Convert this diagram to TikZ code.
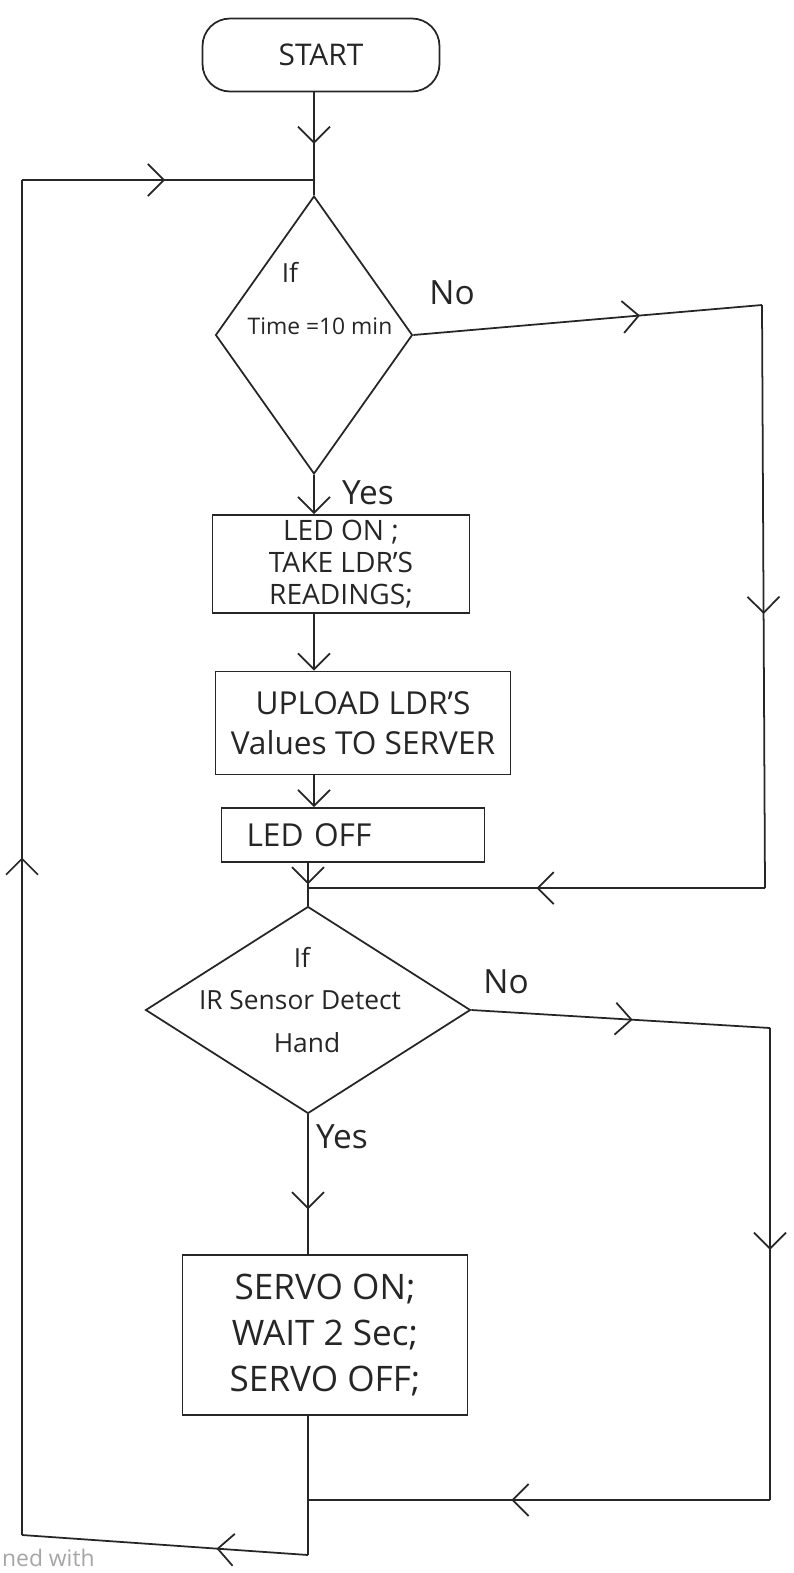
\documentclass[tikz,border=0pt]{standalone}
\usepackage{fontspec}
\setmainfont{Open Sans}
\usetikzlibrary{shapes.geometric,arrows.meta,decorations.markings}

\tikzset{
  hand/.tip={Straight Barb[length=3.2mm,width=6.4mm,line width=1pt]},
  flow/.style={line width=1pt, draw=black!85},
  midarrow/.style={postaction={decorate,decoration={markings,mark=at position #1 with {\arrow{hand}}}}},
  procbox/.style={draw=black!85, line width=1pt, rectangle, inner sep=2pt, align=center, text=black!85},
  decbox/.style={draw=black!85, line width=1pt, diamond, inner sep=0pt},
  tag/.style={font=\fontsize{19}{22}\selectfont, text=black!85},
}

\begin{document}
\begin{tikzpicture}[x=0.02cm, y=-0.02cm]
    \fill[white] (0,0) rectangle (794,1573);
    \useasboundingbox (0,0) rectangle (794,1573);

    % Blocks
    \node[procbox, rounded corners=0.55cm, minimum width=4.74cm, minimum height=1.46cm,
          font=\fontsize{17}{20}\selectfont] (start) at (321,55) {START};

    \node[decbox, minimum width=3.94cm, minimum height=5.56cm] (dec1) at (314,335) {};
    \node[font=\fontsize{15}{17}\selectfont, text=black!85] (dec1if) at (290,272) {If};
    \node[font=\fontsize{13}{15}\selectfont, text=black!85] (dec1q) at (320,326) {Time =10 min};

    \node[procbox, minimum width=5.14cm, minimum height=1.96cm,
          font=\fontsize{16}{18}\selectfont] (box1) at (341,564) {LED ON ;\\TAKE LDR'S\\READINGS;};
    \node[procbox, minimum width=5.9cm, minimum height=2.06cm,
          font=\fontsize{18}{23}\selectfont] (box2) at (363,723) {UPLOAD LDR'S\\Values TO SERVER};
    \node[procbox, minimum width=5.26cm, minimum height=1.08cm, inner xsep=0.5cm,
          text width=4.26cm, align=left, font=\fontsize{18}{20}\selectfont] (box3) at (353,835) {LED OFF};

    \node[decbox, minimum width=6.5cm, minimum height=4.14cm] (dec2) at (308,1010) {};
    \node[font=\fontsize{15}{18}\selectfont, text=black!85] (dec2if) at (302,957) {If};
    \node[font=\fontsize{15}{18}\selectfont, text=black!85] (dec2q) at (300,1000) {IR Sensor Detect};
    \node[font=\fontsize{15}{18}\selectfont, text=black!85] (dec2hand) at (307,1043) {Hand};

    \node[procbox, minimum width=5.7cm, minimum height=3.2cm,
          font=\fontsize{20}{26}\selectfont] (box4) at (325,1335) {SERVO ON;\\WAIT 2 Sec;\\SERVO OFF;};

    % Corner points
    \coordinate (nA) at (762,305);
    \coordinate (nB) at (765,888);
    \coordinate (nC) at (770,1028);
    \coordinate (nD) at (770,1500);
    \coordinate (loopB) at (308,1555);
    \coordinate (loopL) at (22,1535);
    \coordinate (loopT) at (22,180);

    % Main line
    \draw[flow, midarrow=0.5] (start.south -| dec1.north) -- (dec1.north);
    \draw[flow, -hand] (dec1.south) -- (dec1.south |- box1.north);
    \draw[flow, -hand] (dec1.south |- box1.south) -- (dec1.south |- box2.north);
    \draw[flow, -hand] (dec1.south |- box2.south) -- (dec1.south |- box3.north);
    \draw[flow, midarrow=0.5] (dec2.north |- box3.south) -- (dec2.north);
    \draw[flow, midarrow=0.68] (dec2.south) -- (dec2.south |- box4.north);
    \draw[flow] (box4.south -| dec2.south) -- (loopB);

    % No branches
    \draw[flow, midarrow=0.65] (dec1.east) -- (nA);
    \draw[flow, midarrow=0.53] (nA) -- (nB);
    \draw[flow, midarrow=0.5] (nB) -- (nB -| dec2.north);

    \draw[flow, midarrow=0.54] (dec2.east) -- (nC);
    \draw[flow, midarrow=0.47] (nC) -- (nD);
    \draw[flow, midarrow=0.56] (nD) -- (nD -| dec2.south);

    % Loop back
    \draw[flow, midarrow=0.32] (loopB) -- (loopL);
    \draw[flow, midarrow=0.5] (loopL) -- (loopT);
    \draw[flow, midarrow=0.49] (loopT) -- (loopT -| dec1.north);

    % Labels
    \node[tag] (no1) at (452,293) {No};
    \node[tag] (yes1) at (368,493) {Yes};
    \node[tag] (no2) at (506,982) {No};
    \node[tag] (yes2) at (342,1137) {Yes};

    \node[anchor=west, text=black!35, font=\fontsize{13}{15}\selectfont] (scanmark) at (-4,1558) {ned with};
\end{tikzpicture}
\end{document}
